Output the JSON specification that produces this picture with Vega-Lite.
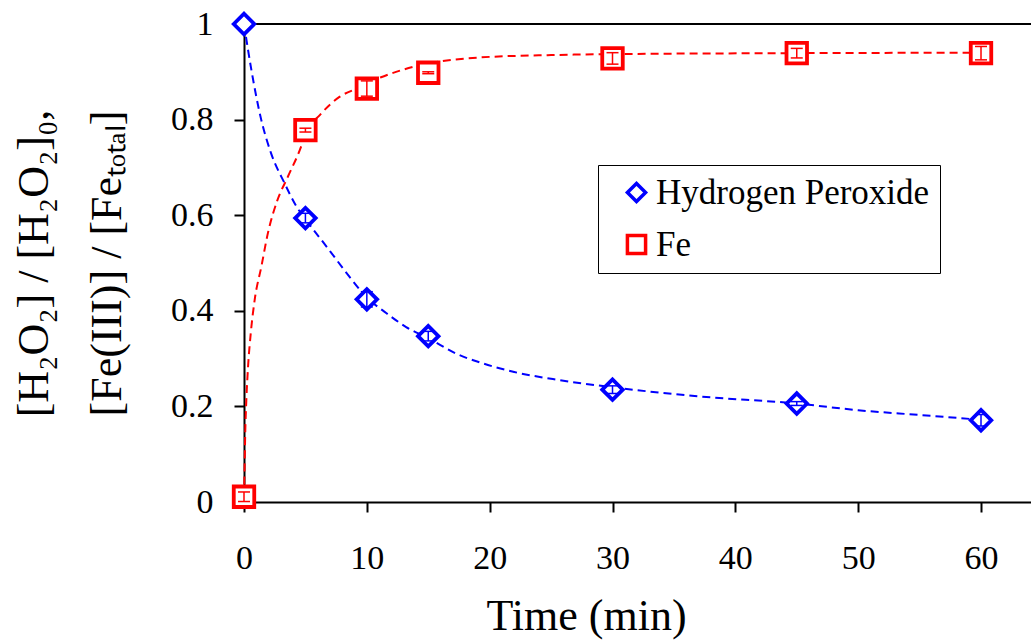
{
  "$schema": "https://vega.github.io/schema/vega-lite/v6.json",
  "autosize": {"type": "none"},
  "padding": {"left": 244, "top": 24, "right": 0, "bottom": 138},
  "width": 787,
  "height": 478,
  "background": "white",
  "config": {
    "view": {"stroke": null},
    "font": "Liberation Serif",
    "axis": {
      "grid": false,
      "labelFlush": false,
      "domainColor": "black",
      "domainWidth": 2,
      "tickColor": "black",
      "tickWidth": 2,
      "tickSize": 10,
      "labelFont": "Liberation Serif",
      "labelFontSize": 34,
      "labelColor": "black",
      "titleFont": "Liberation Serif",
      "titleFontWeight": "normal",
      "titleColor": "black"
    },
    "legend": {"labelFont": "Liberation Serif"}
  },
  "datasets": {
    "measured": [
      {"series": "Hydrogen Peroxide", "t": 0, "v": 1.0, "lo": null, "hi": null},
      {"series": "Hydrogen Peroxide", "t": 5, "v": 0.594, "lo": 0.584, "hi": 0.604},
      {"series": "Hydrogen Peroxide", "t": 10, "v": 0.424, "lo": 0.408, "hi": 0.44},
      {"series": "Hydrogen Peroxide", "t": 15, "v": 0.347, "lo": 0.337, "hi": 0.357},
      {"series": "Hydrogen Peroxide", "t": 30, "v": 0.235, "lo": 0.227, "hi": 0.243},
      {"series": "Hydrogen Peroxide", "t": 45, "v": 0.206, "lo": 0.202, "hi": 0.21},
      {"series": "Hydrogen Peroxide", "t": 60, "v": 0.171, "lo": 0.159, "hi": 0.183},
      {"series": "Fe", "t": 0, "v": 0.011, "lo": 0.001, "hi": 0.021},
      {"series": "Fe", "t": 5, "v": 0.778, "lo": 0.774, "hi": 0.782},
      {"series": "Fe", "t": 10, "v": 0.865, "lo": 0.849, "hi": 0.881},
      {"series": "Fe", "t": 15, "v": 0.898, "lo": 0.896, "hi": 0.9},
      {"series": "Fe", "t": 30, "v": 0.928, "lo": 0.916, "hi": 0.94},
      {"series": "Fe", "t": 45, "v": 0.939, "lo": 0.929, "hi": 0.949},
      {"series": "Fe", "t": 60, "v": 0.939, "lo": 0.925, "hi": 0.953}
    ],
    "fitted": [
      {"series": "Hydrogen Peroxide", "t": 0, "v": 1.0},
      {"series": "Hydrogen Peroxide", "t": 0.6, "v": 0.904},
      {"series": "Hydrogen Peroxide", "t": 1.4, "v": 0.8},
      {"series": "Hydrogen Peroxide", "t": 2.2, "v": 0.73},
      {"series": "Hydrogen Peroxide", "t": 3.3, "v": 0.667},
      {"series": "Hydrogen Peroxide", "t": 4.3, "v": 0.617},
      {"series": "Hydrogen Peroxide", "t": 5, "v": 0.592},
      {"series": "Hydrogen Peroxide", "t": 7, "v": 0.525},
      {"series": "Hydrogen Peroxide", "t": 8.5, "v": 0.474},
      {"series": "Hydrogen Peroxide", "t": 10, "v": 0.428},
      {"series": "Hydrogen Peroxide", "t": 11.6, "v": 0.395},
      {"series": "Hydrogen Peroxide", "t": 13.2, "v": 0.366},
      {"series": "Hydrogen Peroxide", "t": 15, "v": 0.343},
      {"series": "Hydrogen Peroxide", "t": 17.3, "v": 0.31},
      {"series": "Hydrogen Peroxide", "t": 19.2, "v": 0.292},
      {"series": "Hydrogen Peroxide", "t": 22, "v": 0.272},
      {"series": "Hydrogen Peroxide", "t": 25.7, "v": 0.255},
      {"series": "Hydrogen Peroxide", "t": 30, "v": 0.24},
      {"series": "Hydrogen Peroxide", "t": 37, "v": 0.221},
      {"series": "Hydrogen Peroxide", "t": 45, "v": 0.206},
      {"series": "Hydrogen Peroxide", "t": 50, "v": 0.192},
      {"series": "Hydrogen Peroxide", "t": 55, "v": 0.182},
      {"series": "Hydrogen Peroxide", "t": 60, "v": 0.172},
      {"series": "Fe", "t": 0, "v": 0.01},
      {"series": "Fe", "t": 0.05, "v": 0.074},
      {"series": "Fe", "t": 0.1, "v": 0.144},
      {"series": "Fe", "t": 0.19, "v": 0.213},
      {"series": "Fe", "t": 0.33, "v": 0.283},
      {"series": "Fe", "t": 0.55, "v": 0.353},
      {"series": "Fe", "t": 0.87, "v": 0.423},
      {"series": "Fe", "t": 1.41, "v": 0.492},
      {"series": "Fe", "t": 1.95, "v": 0.563},
      {"series": "Fe", "t": 2.7, "v": 0.63},
      {"series": "Fe", "t": 3.58, "v": 0.681},
      {"series": "Fe", "t": 4.67, "v": 0.745},
      {"series": "Fe", "t": 5, "v": 0.77},
      {"series": "Fe", "t": 6.19, "v": 0.81},
      {"series": "Fe", "t": 7.8, "v": 0.848},
      {"series": "Fe", "t": 9.26, "v": 0.866},
      {"series": "Fe", "t": 11.1, "v": 0.888},
      {"series": "Fe", "t": 12.9, "v": 0.904},
      {"series": "Fe", "t": 14.9, "v": 0.917},
      {"series": "Fe", "t": 19.2, "v": 0.93},
      {"series": "Fe", "t": 25, "v": 0.935},
      {"series": "Fe", "t": 30, "v": 0.937},
      {"series": "Fe", "t": 45, "v": 0.939},
      {"series": "Fe", "t": 60, "v": 0.94}
    ]
  },
  "layer": [
    {
      "data": {"values": [{}]},
      "mark": {"type": "rule", "color": "black", "strokeWidth": 2},
      "encoding": {
        "y": {
          "datum": 1,
          "type": "quantitative",
          "scale": {"domain": [0, 1], "nice": false},
          "axis": {
            "title": ["[H₂O₂] / [H₂O₂]₀,", "[Fe(III)] / [Feₜₒₜₐₗ]"],
            "titleFontSize": 44,
            "titleAngle": -90,
            "titleAlign": "center",
            "titleBaseline": "top",
            "titleX": -232,
            "titleY": 239,
            "titleLineHeight": 73,
            "values": [0, 0.2, 0.4, 0.6, 0.8, 1],
            "format": "~g",
            "labelPadding": 21
          }
        }
      }
    },
    {
      "data": {"name": "fitted"},
      "transform": [{"filter": "datum.series === 'Hydrogen Peroxide'"}],
      "mark": {"type": "line", "interpolate": "monotone", "strokeDash": [8, 5], "strokeWidth": 2, "color": "#0000FF"},
      "encoding": {
        "x": {
          "field": "t",
          "type": "quantitative",
          "scale": {"domain": [0, 64.07], "nice": false},
          "axis": {
            "title": "Time (min)",
            "titleFontSize": 44,
            "titleAlign": "center",
            "titleBaseline": "alphabetic",
            "titleX": 342,
            "titleY": 127,
            "values": [0, 10, 20, 30, 40, 50, 60],
            "labelPadding": 29
          }
        },
        "y": {"field": "v", "type": "quantitative"}
      }
    },
    {
      "data": {"name": "fitted"},
      "transform": [{"filter": "datum.series === 'Fe'"}],
      "mark": {"type": "line", "interpolate": "monotone", "strokeDash": [8, 5], "strokeWidth": 2, "color": "#FF0000"},
      "encoding": {
        "x": {"field": "t", "type": "quantitative"},
        "y": {"field": "v", "type": "quantitative"}
      }
    },
    {
      "data": {"name": "measured"},
      "mark": {"type": "point", "filled": false, "fill": "white", "fillOpacity": 1, "strokeWidth": 3.8, "size": 420, "opacity": 1},
      "encoding": {
        "x": {"field": "t", "type": "quantitative"},
        "y": {"field": "v", "type": "quantitative"},
        "stroke": {
          "field": "series",
          "type": "nominal",
          "scale": {"domain": ["Hydrogen Peroxide", "Fe"], "range": ["#0000FF", "#FF0000"]},
          "legend": {
            "title": null,
            "orient": "none",
            "legendX": 354,
            "legendY": 141,
            "padding": 10,
            "symbolOffset": 11,
            "strokeColor": "black",
            "fillColor": "white",
            "labelFont": "Liberation Serif",
            "labelFontSize": 35,
            "labelColor": "black",
            "labelLimit": 500,
            "labelOffset": 2,
            "rowPadding": 16,
            "symbolSize": 330,
            "symbolStrokeWidth": 3.5
          }
        },
        "shape": {
          "field": "series",
          "type": "nominal",
          "scale": {"domain": ["Hydrogen Peroxide", "Fe"], "range": ["diamond", "square"]},
          "legend": {
            "title": null,
            "orient": "none",
            "legendX": 354,
            "legendY": 141,
            "padding": 10,
            "symbolOffset": 11,
            "strokeColor": "black",
            "fillColor": "white",
            "labelFont": "Liberation Serif",
            "labelFontSize": 35,
            "labelColor": "black",
            "labelLimit": 500,
            "labelOffset": 2,
            "rowPadding": 16,
            "symbolSize": 330,
            "symbolStrokeWidth": 3.5
          }
        }
      }
    },
    {
      "data": {"name": "measured"},
      "transform": [{"filter": "datum.series === 'Hydrogen Peroxide' && datum.lo != null"}],
      "mark": {"type": "rule", "strokeWidth": 1.5, "color": "#0000FF"},
      "encoding": {
        "x": {"field": "t", "type": "quantitative"},
        "y": {"field": "lo", "type": "quantitative"},
        "y2": {"field": "hi"}
      }
    },
    {
      "data": {"name": "measured"},
      "transform": [{"filter": "datum.series === 'Hydrogen Peroxide' && datum.lo != null"}],
      "mark": {"type": "tick", "orient": "horizontal", "size": 12, "thickness": 1.5, "opacity": 1, "color": "#0000FF"},
      "encoding": {
        "x": {"field": "t", "type": "quantitative"},
        "y": {"field": "lo", "type": "quantitative"}
      }
    },
    {
      "data": {"name": "measured"},
      "transform": [{"filter": "datum.series === 'Hydrogen Peroxide' && datum.hi != null"}],
      "mark": {"type": "tick", "orient": "horizontal", "size": 12, "thickness": 1.5, "opacity": 1, "color": "#0000FF"},
      "encoding": {
        "x": {"field": "t", "type": "quantitative"},
        "y": {"field": "hi", "type": "quantitative"}
      }
    },
    {
      "data": {"name": "measured"},
      "transform": [{"filter": "datum.series === 'Fe'"}],
      "mark": {"type": "rule", "strokeWidth": 1.5, "color": "#FF0000"},
      "encoding": {
        "x": {"field": "t", "type": "quantitative"},
        "y": {"field": "lo", "type": "quantitative"},
        "y2": {"field": "hi"}
      }
    },
    {
      "data": {"name": "measured"},
      "transform": [{"filter": "datum.series === 'Fe'"}],
      "mark": {"type": "tick", "orient": "horizontal", "size": 12, "thickness": 1.5, "opacity": 1, "color": "#FF0000"},
      "encoding": {
        "x": {"field": "t", "type": "quantitative"},
        "y": {"field": "lo", "type": "quantitative"}
      }
    },
    {
      "data": {"name": "measured"},
      "transform": [{"filter": "datum.series === 'Fe'"}],
      "mark": {"type": "tick", "orient": "horizontal", "size": 12, "thickness": 1.5, "opacity": 1, "color": "#FF0000"},
      "encoding": {
        "x": {"field": "t", "type": "quantitative"},
        "y": {"field": "hi", "type": "quantitative"}
      }
    }
  ]
}
